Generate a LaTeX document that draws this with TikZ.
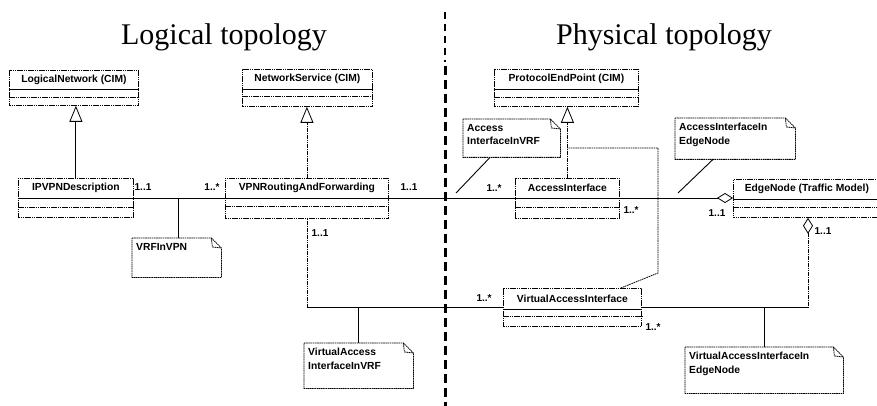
\documentclass[tikz,border=0pt]{standalone}
\usepackage{fontspec}
\setmainfont{Liberation Serif}
\setsansfont{Liberation Sans}
\usetikzlibrary{arrows.meta,calc}

\tikzset{
  umltext/.style={font=\sffamily\bfseries\fontsize{10.3}{13.5}\selectfont, inner sep=0pt},
  multtext/.style={font=\sffamily\bfseries\fontsize{10}{11}\selectfont, inner sep=0pt},
  titletext/.style={font=\fontsize{30}{32}\selectfont, inner sep=0pt},
  classbox/.style={draw, line width=0.8pt, dash pattern=on 1.6pt off 0.6pt,
    inner sep=0pt, anchor=north west},
  notebox/.style={inner sep=0pt, anchor=north west},
  noteline/.style={line width=0.8pt, dash pattern=on 1.6pt off 0.6pt},
  solidrule/.style={line width=0.8pt},
  dotrule/.style={line width=0.7pt, dash pattern=on 1.6pt off 0.6pt},
  assoc/.style={line width=0.8pt},
  dotlink/.style={line width=0.8pt, dash pattern=on 1.6pt off 0.7pt},
  notelink/.style={line width=0.9pt},
  genhead/.style={-{Triangle[open, width=13pt, length=16pt, line width=0.8pt]}},
  aggtail/.style={{Diamond[open, width=10pt, length=16pt, line width=0.8pt]}-},
  aggend/.style={-{Diamond[open, width=10pt, length=16pt, line width=0.8pt]}},
  separator/.style={line width=3pt, dash pattern=on 9pt off 5pt},
  separatorthin/.style={line width=1.2pt, dash pattern=on 7pt off 5pt},
}

% class box: name, x, y, width, height, first divider, second divider, title
\newcommand\umlclass[8]{%
  \node[classbox, minimum width=#4pt, minimum height=#5pt] (#1) at (#2,#3) {};
  \node[umltext] (#1-name) at ($(#1.north)+(0,#6/2)$) {#8};
  \draw[solidrule] ($(#1.north west)+(0,#6)$) -- ($(#1.north east)+(0,#6)$);
  \draw[dotrule] ($(#1.north west)+(0,#7)$) -- ($(#1.north east)+(0,#7)$);
}

% note with a folded corner: name, x, y, width, height, text
\newcommand\umlnote[6]{%
  \node[notebox, minimum width=#4pt, minimum height=#5pt] (#1) at (#2,#3) {};
  \node[umltext, anchor=north west, align=left] (#1-text) at ($(#1.north west)+(4,5)$) {#6};
  \draw[noteline] (#1.north west) -- ($(#1.north east)+(-10,0)$) -- ($(#1.north east)+(0,10)$)
    -- (#1.south east) -- (#1.south west) -- cycle;
  \draw[noteline] ($(#1.north east)+(-10,0)$) -- ($(#1.north east)+(-9,9)$) -- ($(#1.north east)+(0,10)$);
}

\begin{document}
\begin{tikzpicture}[x=1pt, y=-1pt]
  \fill[white] (0,0) rectangle (877,406);
  \useasboundingbox (0,0) rectangle (877,406);
  \clip (0,0) rectangle (877,406);

  % headings
  \node[titletext] (logical) at (224,37) {Logical topology};
  \node[titletext] (physical) at (664,37) {Physical topology};

  % boundary between the two views
  \draw[separatorthin] (445,12) -- (445,62);
  \draw[separator] (445,66) -- (445,406);

  % classes
  \umlclass{ln}{9}{70}{129}{35}{19}{27}{LogicalNetwork (CIM)}
  \umlclass{ns}{242}{69}{130}{37}{20}{27}{NetworkService (CIM)}
  \umlclass{pep}{494}{69}{144}{37}{20}{28}{ProtocolEndPoint (CIM)}
  \umlclass{ipvpn}{18}{178}{115}{39}{20}{29}{IPVPNDescription}
  \umlclass{vrf}{225}{178}{163}{40}{20}{28}{VPNRoutingAndForwarding}
  \umlclass{ai}{515}{178}{104}{40}{20}{29}{AccessInterface}
  \umlclass{en}{733}{179}{147}{38}{20}{28}{EdgeNode (Traffic Model)}
  \umlclass{vai}{503}{288}{138}{38}{21}{28}{VirtualAccessInterface}

  % notes
  \umlnote{vrfinvpn}{132}{238}{89}{39}{VRFInVPN}
  \umlnote{aivrf}{463}{119}{97}{38}{Access\\InterfaceInVRF}
  \umlnote{aien}{675}{118}{120}{41}{AccessInterfaceIn\\EdgeNode}
  \umlnote{vaivrf}{304}{343}{109}{45}{VirtualAccess\\InterfaceInVRF}
  \umlnote{vaien}{685}{347}{158}{46}{VirtualAccessInterfaceIn\\EdgeNode}

  % generalisations
  \draw[assoc, line width=1.1pt, genhead] (ipvpn.north) -- (ipvpn.north |- ln.south);
  \draw[dotlink, genhead] (vrf.north) -- (vrf.north |- ns.south);
  \draw[dotlink, genhead] (ai.north) -- (ai.north |- pep.south);
  \coordinate (j1) at (658,273);
  \coordinate (j2) at (658,148);
  \draw[dotlink] ($(vai.north east)+(-21,0)$) -- (j1) -- (j2) -- (j2 -| ai.north);

  % associations
  \draw[assoc] ($(ipvpn.north east)+(0,20)$) -- ($(vrf.north west)+(0,20)$);
  \draw[assoc] ($(vrf.north east)+(0,20)$) -- ($(ai.north west)+(0,20)$);
  \draw[assoc, aggend] ($(ai.north east)+(0,20)$) -- ($(en.north west)+(0,19)$);
  \coordinate (k1) at (vrf.south |- vai.west);
  \draw[dotlink] (vrf.south) -- (k1);
  \draw[assoc] (k1) -- (vai.west);
  \coordinate (k2) at ($(en.south west)+(75,0)$);
  \coordinate (k3) at (k2 |- vai.east);
  \draw[dotlink, aggtail] (k2) -- (k3);
  \draw[assoc] (k3) -- (vai.east);

  % note attachments
  \coordinate (a1) at (178,198);
  \draw[notelink] (a1 |- vrfinvpn.north) -- (a1);
  \coordinate (c1) at (456,193);
  \draw[notelink] ($(aivrf.south west)+(27,0)$) -- (c1);
  \coordinate (c2) at (678,193);
  \draw[notelink] ($(aien.south west)+(38,0)$) -- (c2);
  \draw[notelink] (vaivrf.north) -- (vaivrf.north |- vai.west);
  \draw[notelink] (vaien.north) -- (vaien.north |- vai.east);

  % multiplicities
  \node[multtext] (m1) at (143,187) {1..1};
  \node[multtext] (m2) at (212,187) {1..*};
  \node[multtext] (m3) at (409,187) {1..1};
  \node[multtext] (m4) at (494,188) {1..*};
  \node[multtext] (m5) at (631,210) {1..*};
  \node[multtext] (m6) at (717,213) {1..1};
  \node[multtext] (m7) at (823,231) {1..1};
  \node[multtext] (m8) at (320,233) {1..1};
  \node[multtext] (m9) at (484,298) {1..*};
  \node[multtext] (m10) at (653,327) {1..*};
\end{tikzpicture}
\end{document}
